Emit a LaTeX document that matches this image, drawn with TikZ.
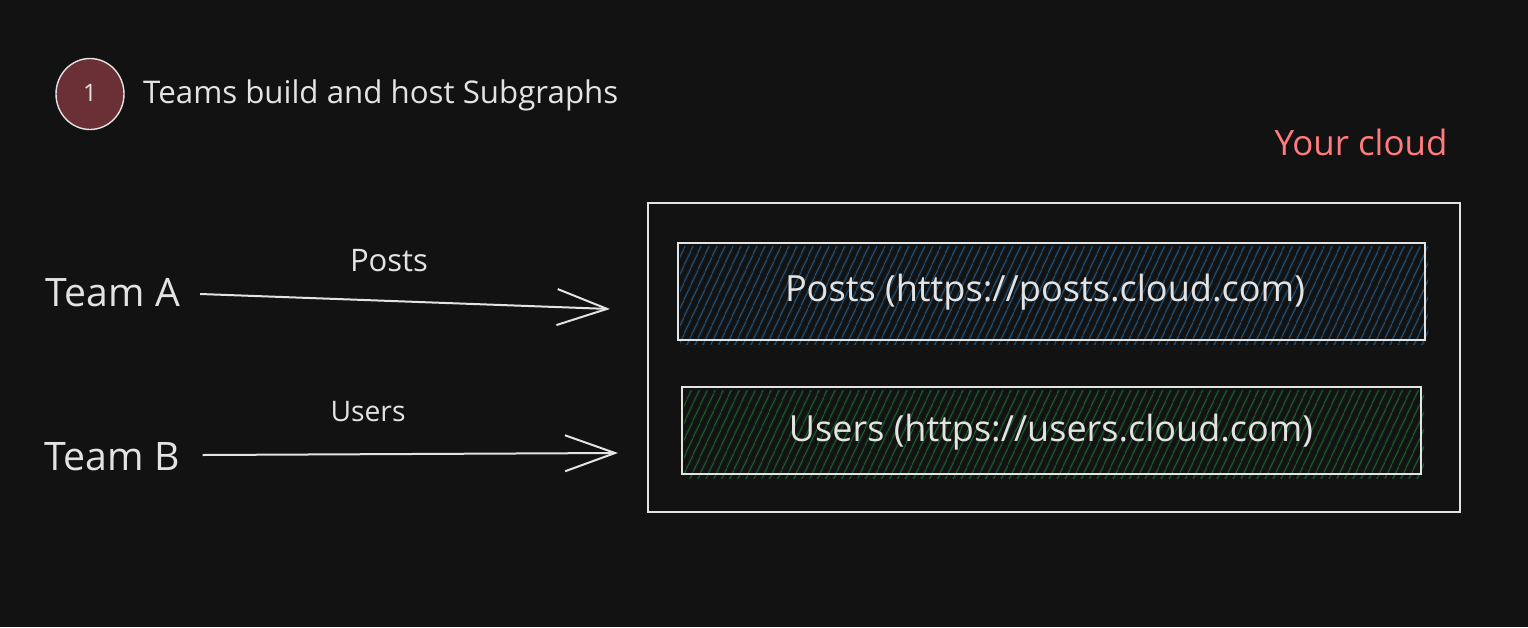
\documentclass[tikz,border=0pt]{standalone}
\usepackage{fontspec}
\setmainfont{Open Sans}
\usetikzlibrary{arrows.meta,patterns.meta,shapes.geometric}
\definecolor{bg}{HTML}{121212}
\definecolor{ink}{HTML}{E3E3E3}
\definecolor{badge}{HTML}{6A3035}
\definecolor{cloudred}{HTML}{FF7B7E}
\definecolor{hatchblue}{HTML}{1F5C8E}
\definecolor{hatchgreen}{HTML}{176A2E}
\tikzset{
  lbl/.style={text=ink, inner sep=0pt},
  sketchbox/.style={draw=ink, line width=2pt, inner sep=0pt},
  conn/.style={draw=ink, line width=2pt, -{Straight Barb[length=50pt,width=36pt]}},
}
\newcommand{\fs}[1]{\fontsize{#1}{#1}\selectfont}
\begin{document}
\begin{tikzpicture}[x=1pt,y=-1pt]
\fill[bg] (0,0) rectangle (1528,627);
\useasboundingbox (0,0) rectangle (1528,627);

% badge
\node[ellipse, draw=ink, line width=1.4pt, fill=badge, minimum width=68pt, minimum height=71pt, inner sep=0pt] (badge) at (90,94) {};
\node[lbl, font=\fs{24}] (one) at (90,93) {1};
\node[lbl, anchor=west] (title) at (143,95) {\resizebox{475pt}{!}{\fs{28}Teams build and host Subgraphs}};

% cloud label
\node[lbl, text=cloudred] (cloud) at (1361,142) {\resizebox{173pt}{!}{\fs{30}Your cloud}};

% outer box
\node[sketchbox, minimum width=812pt, minimum height=309pt] (outer) at (1054,357.5) {};

% posts box
\fill[pattern={Lines[angle=65,distance=6.5pt,line width=1.1pt]}, pattern color=hatchblue] (680,246) rectangle (1428,344);
\node[sketchbox, minimum width=747pt, minimum height=97pt] (posts) at (1051.5,291.5) {};
\node[lbl] (poststxt) at (1045,292) {\resizebox{520pt}{!}{\fs{32}Posts (https://posts.cloud.com)}};

% users box
\fill[pattern={Lines[angle=65,distance=6.5pt,line width=1.1pt]}, pattern color=hatchgreen] (684,390) rectangle (1424,478);
\node[sketchbox, minimum width=739pt, minimum height=87pt] (users) at (1051.5,430.5) {};
\node[lbl] (userstxt) at (1051,432) {\resizebox{524pt}{!}{\fs{32}Users (https://users.cloud.com)}};

% teams
\node[lbl] (teamA) at (113,293) {\resizebox{134pt}{!}{\fs{30}Team A}};
\node[lbl] (teamB) at (112,457) {\resizebox{135pt}{!}{\fs{30}Team B}};

% arrows
\coordinate (endA) at (610,309);
\coordinate (endB) at (618,453);
\draw[conn] ([xshift=20pt,yshift=-1pt]teamA.east) -- (endA);
\draw[conn] ([xshift=23pt,yshift=2pt]teamB.east) -- (endB);
\node[lbl] (postslbl) at (389,261) {\resizebox{78pt}{!}{\fs{24}Posts}};
\node[lbl] (userslbl) at (368,412) {\resizebox{75pt}{!}{\fs{24}Users}};
\end{tikzpicture}
\end{document}
